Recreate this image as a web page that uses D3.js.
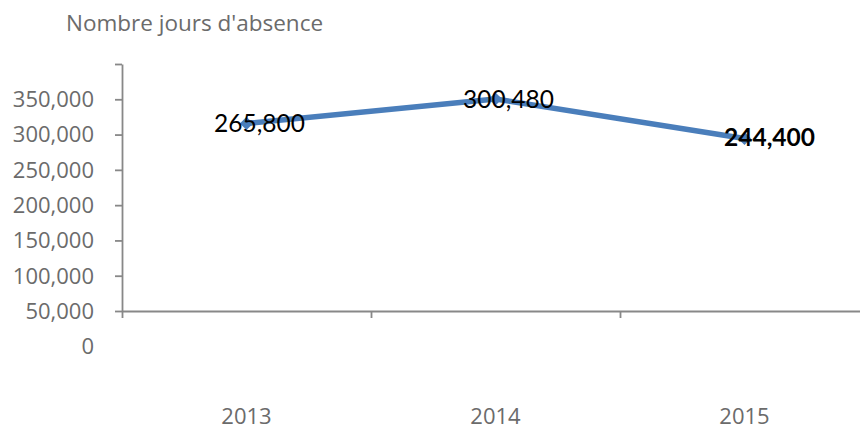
<!DOCTYPE html>
<html>
<head>
<meta charset="utf-8">
<script src="https://cdn.jsdelivr.net/npm/d3@7"></script>
<style>
  body { margin: 0; background: #fff; }
  svg { display: block; }
</style>
</head>
<body>
<script>
// data
var years = ["2013", "2014", "2015"];
var absenceDays = [265800, 300480, 244400];
var yTicks = [0, 50000, 100000, 150000, 200000, 250000, 300000, 350000];
var yTickLabels = ["0", "50,000", "100,000", "150,000", "200,000", "250,000", "300,000", "350,000"];
var chartTitle = "Nombre jours d'absence";

var width = 860, height = 431;
var axisColor = "#888", textColor = "#6b6b6b", lineColor = "#4a7ebb";

var svg = d3.select("body").append("svg")
    .attr("width", width)
    .attr("height", height);

var y = d3.scaleLinear()
    .domain([0, 350000])
    .range([311, 64]);

var x = d3.scaleBand()
    .domain(years)
    .range([122, 869])
    .paddingInner(0)
    .paddingOuter(0);

// boundaries between categories, for the tick marks
var xEdge = d3.scaleLinear()
    .domain([0, years.length])
    .range(x.range());

// title
svg.append("text")
    .attr("x", 66)
    .attr("y", 31)
    .attr("fill", textColor)
    .style("font-family", "'Open Sans', sans-serif")
    .style("font-size", "22.5px")
    .text(chartTitle);

// y axis (labels drawn separately, they sit one step below their tick)
var yAxis = svg.append("g")
    .attr("transform", "translate(122,0)")
    .call(d3.axisLeft(y).tickValues(yTicks).tickSize(7).tickSizeOuter(0).tickFormat(""));

// x axis
var xAxis = svg.append("g")
    .attr("transform", "translate(0," + y(0) + ")")
    .call(d3.axisBottom(xEdge).tickValues(d3.range(years.length + 1)).tickSize(7).tickSizeOuter(0).tickFormat(""));

[yAxis, xAxis].forEach(function(g) {
  g.selectAll("path, line")
    .attr("stroke", axisColor)
    .attr("stroke-width", 1.8);
});

var step = y(0) - y(50000);

svg.append("g").selectAll("text")
    .data(yTicks)
  .enter().append("text")
    .attr("x", 94)
    .attr("y", function(d) { return y(d) + step; })
    .attr("dy", "0.36em")
    .attr("text-anchor", "end")
    .attr("fill", textColor)
    .style("font-family", "'Open Sans', sans-serif")
    .style("font-size", "22px")
    .text(function(d, i) { return yTickLabels[i]; });

svg.append("g").selectAll("text")
    .data(years)
  .enter().append("text")
    .attr("x", function(d) { return x(d) + x.bandwidth() / 2; })
    .attr("y", 424)
    .attr("text-anchor", "middle")
    .attr("fill", textColor)
    .style("font-family", "'Open Sans', sans-serif")
    .style("font-size", "22px")
    .text(function(d) { return d; });

// line + markers
var pts = years.map(function(yr, i) { return {year: yr, value: absenceDays[i]}; });

var line = d3.line()
    .x(function(d) { return x(d.year) + x.bandwidth() / 2; })
    .y(function(d) { return y(d.value); });

svg.append("path")
    .datum(pts)
    .attr("fill", "none")
    .attr("stroke", lineColor)
    .attr("stroke-width", 5.5)
    .attr("stroke-linejoin", "round")
    .attr("d", line);

svg.append("g").selectAll("path")
    .data(pts)
  .enter().append("path")
    .attr("transform", function(d) {
      return "translate(" + (x(d.year) + x.bandwidth() / 2) + "," + y(d.value) + ")";
    })
    .attr("d", d3.symbol().type(d3.symbolDiamond2).size(110))
    .attr("fill", lineColor);

// data labels
var fmt = d3.format(",");
var last = pts.length - 1;
svg.append("g").selectAll("text")
    .data(pts)
  .enter().append("text")
    .attr("x", function(d, i) { return x(d.year) + x.bandwidth() / 2 + (i === last ? 25 : 13); })
    .attr("y", function(d, i) { return y(d.value) + (i === last ? 7 : 9); })
    .attr("text-anchor", "middle")
    .attr("fill", "#000")
    .style("font-family", "Lato, sans-serif")
    .style("font-size", "24.5px")
    .style("font-weight", function(d, i) { return i === last ? "bold" : "normal"; })
    .text(function(d) { return fmt(d.value); });
</script>
</body>
</html>
